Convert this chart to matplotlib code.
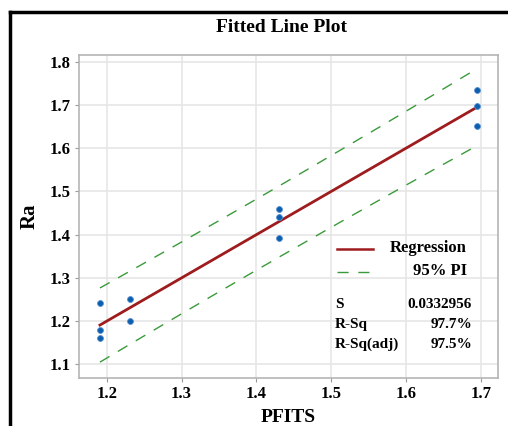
"""Fitted line plot: Ra vs PFITS"""

import matplotlib

matplotlib.use("Agg")
import matplotlib.pyplot as plt
import numpy as np
from matplotlib.lines import Line2D

# data
pfits = [1.191, 1.191, 1.191, 1.231, 1.231, 1.43, 1.43, 1.43, 1.694, 1.694, 1.694]
ra = [1.241, 1.178, 1.160, 1.250, 1.200, 1.460, 1.440, 1.392, 1.735, 1.697, 1.651]
x_ticks = [1.2, 1.3, 1.4, 1.5, 1.6, 1.7]
y_ticks = [1.1, 1.2, 1.3, 1.4, 1.5, 1.6, 1.7, 1.8]
stat_names = ["S", "R-Sq", "R-Sq(adj)"]
stat_values = ["0.0332956", "97.7%", "97.5%"]
t_crit = 2.262  # t(0.975, df=9)

RED = "#9e1b1e"
GREEN = "#3a9a3a"
BLUE = "#0b5fae"
GRID = "#e6e6e6"
SERIF = "Liberation Serif"

plt.rcParams["font.family"] = SERIF
plt.rcParams["font.weight"] = "bold"

x = np.array(pfits)
y = np.array(ra)
n = len(x)
slope, intercept = np.polyfit(x, y, 1)
resid = y - (slope * x + intercept)
s = np.sqrt(np.sum(resid**2) / (n - 2))
sxx = np.sum((x - x.mean()) ** 2)

xs = np.linspace(x.min(), x.max(), 60)
fit = slope * xs + intercept
half = t_crit * s * np.sqrt(1 + 1 / n + (xs - x.mean()) ** 2 / sxx)

fig = plt.figure(figsize=(5.08, 4.26), dpi=100)
ax = fig.add_axes([79 / 508, 1 - 378 / 426, 419 / 508, 323 / 426])

ax.plot(xs, fit, color=RED, lw=2.0, zorder=3)
ax.plot(xs, fit + half, color=GREEN, lw=1.0, dashes=(8, 7), zorder=2)
ax.plot(xs, fit - half, color=GREEN, lw=1.0, dashes=(8, 7), zorder=2)
ax.scatter(x, y, s=18, color=BLUE, edgecolor="#5a8fd0", linewidth=0.6, zorder=4)

ax.set_xlim(1.163, 1.7227)
ax.set_ylim(1.0675, 1.816)
ax.set_xticks(x_ticks)
ax.set_yticks(y_ticks)
ax.set_xticklabels([f"{v:.1f}" for v in x_ticks])
ax.set_yticklabels([f"{v:.1f}" for v in y_ticks])
ax.tick_params(labelsize=12, length=3, color="#999999", pad=3)
ax.grid(True, color=GRID, lw=1.2)
ax.set_axisbelow(True)
for sp in ax.spines.values():
    sp.set_color("#b5b5b5")
    sp.set_linewidth(1.2)

ax.set_xlabel("PFITS", fontsize=14, fontweight="bold", labelpad=5)
ax.set_ylabel("Ra", fontsize=15, fontweight="bold", labelpad=7)
fig.text(281 / 508, 1 - 27 / 426, "Fitted Line Plot", ha="center", va="center",
         fontsize=14, fontweight="bold")

# legend and stats box
tr = fig.transFigure
fig.add_artist(Line2D([337 / 508, 373 / 508], [1 - 249 / 426] * 2, color=RED, lw=1.8, transform=tr))
fig.add_artist(Line2D([337 / 508, 372 / 508], [1 - 272 / 426] * 2, color=GREEN, lw=1.0,
                      dashes=(8, 7), transform=tr))
fig.text(467 / 508, 1 - 248 / 426, "Regression", ha="right", va="center", fontsize=12)
fig.text(467 / 508, 1 - 271 / 426, "95% PI", ha="right", va="center", fontsize=12)
for i, (name, val) in enumerate(zip(stat_names, stat_values)):
    yy = 1 - (305 + 19.5 * i) / 426
    fig.text(335 / 508, yy, name, ha="left", va="center", fontsize=11)
    fig.text(472 / 508, yy, val, ha="right", va="center", fontsize=11)

# outer frame (only top and left edges visible in the crop)
fig.add_artist(Line2D([10 / 508, 1.0], [1 - 12 / 426] * 2, color="black", lw=2.5, transform=tr))
fig.add_artist(Line2D([10 / 508, 10 / 508], [0.0, 1 - 12 / 426], color="black", lw=2.5, transform=tr))

fig.savefig("out.png", dpi=100)
